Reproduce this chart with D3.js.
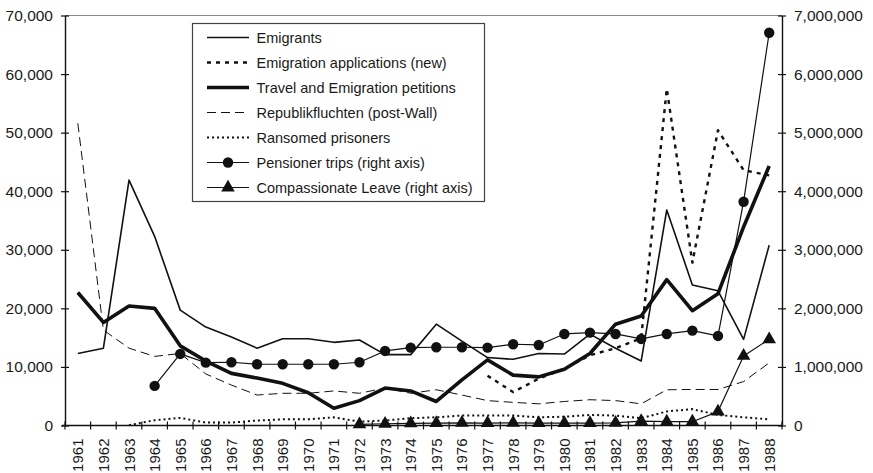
<!DOCTYPE html>
<html>
<head>
<meta charset="utf-8">
<script src="https://cdn.jsdelivr.net/npm/d3@7/dist/d3.min.js"></script>
<style>
  html, body { margin: 0; padding: 0; background: #fff; }
  svg { display: block; }
  text { font-family: "Liberation Sans", Arial, Helvetica, sans-serif; fill: #1a1a1a; }
</style>
</head>
<body>
<svg id="chart" width="873" height="473"></svg>
<script>
const years = [1961,1962,1963,1964,1965,1966,1967,1968,1969,1970,1971,1972,1973,1974,1975,1976,1977,1978,1979,1980,1981,1982,1983,1984,1985,1986,1987,1988];

const emigrants = [12300,13200,41900,32300,19700,16800,15100,13200,14800,14800,14200,14600,12100,12100,17300,14400,11600,11300,12300,12200,15600,13200,11000,36800,24000,23000,14700,30800];

const applications = [null,null,null,null,null,null,null,null,null,null,null,null,null,null,null,null,8500,5700,8000,9700,12000,13200,14900,57500,27800,50400,43600,42700];

const travel = [22700,17600,20400,20000,13600,11000,8900,8100,7200,5600,2950,4250,6400,5900,4100,7800,11200,8600,8300,9600,12300,17300,18700,24900,19600,22500,33900,44300];

const republik = [51600,16300,13200,11800,12300,8800,6900,5200,5500,5500,5900,5500,6400,5500,6100,5200,4250,3950,3700,4100,4400,4250,3700,6100,6150,6150,7500,10700];

const ransomed = [null,null,50,900,1300,500,500,850,1050,1050,1400,650,850,1250,1400,1700,1700,1700,1400,1500,1800,1700,1250,2400,2800,1800,1400,1050];

const pensioner = [null,null,null,676000,1222000,1073000,1080000,1046000,1046000,1046000,1046000,1080000,1273000,1330000,1336000,1336000,1330000,1387000,1375000,1563000,1585000,1563000,1478000,1563000,1620000,1529000,3821000,6705000];

const compassionate = [null,null,null,null,null,null,null,null,null,null,null,20000,30000,35000,40000,45000,40000,45000,40000,40000,40000,45000,75000,65000,65000,237000,1188000,1473000];

const leftTicks = [0,10000,20000,30000,40000,50000,60000,70000];
const rightTicks = [0,1000000,2000000,3000000,4000000,5000000,6000000,7000000];

const legendLabels = [
  "Emigrants",
  "Emigration applications (new)",
  "Travel and Emigration petitions",
  "Republikfluchten (post-Wall)",
  "Ransomed prisoners",
  "Pensioner trips (right axis)",
  "Compassionate Leave (right axis)"
];

const svg = d3.select("#chart");
const L = 65, R = 782, T = 15.5, B = 425.5;

const x = d3.scaleBand().domain(years).range([L, R]).paddingInner(0).paddingOuter(0);
const yL = d3.scaleLinear().domain([0, 70000]).range([B, T]);
const yR = d3.scaleLinear().domain([0, 7000000]).range([B, T]);
const cx = d => x(d) + x.bandwidth() / 2;

// top border
svg.append("line").attr("x1", L).attr("x2", R).attr("y1", T).attr("y2", T)
  .attr("stroke", "#8a8a8a").attr("stroke-width", 1);

const fmt = d3.format(",");

// left axis
const gL = svg.append("g").attr("transform", `translate(${L},0)`)
  .call(d3.axisLeft(yL).tickValues(leftTicks).tickFormat(fmt).tickSizeInner(4).tickSizeOuter(0).tickPadding(8));
gL.selectAll(".tick line").attr("x1", 4).attr("x2", -4);
// right axis
const gR = svg.append("g").attr("transform", `translate(${R},0)`)
  .call(d3.axisRight(yR).tickValues(rightTicks).tickFormat(fmt).tickSizeInner(4).tickSizeOuter(0).tickPadding(8));
gR.selectAll(".tick line").attr("x1", -4).attr("x2", 4);
// bottom axis
const gB = svg.append("g").attr("transform", `translate(0,${B})`)
  .call(d3.axisBottom(x).tickValues([]).tickSizeOuter(0));
gB.selectAll(".tick").remove();
const bounds = years.map(y => x(y)).concat([R]);
gB.selectAll("line.bt").data(bounds).enter().append("line").attr("class", "bt")
  .attr("x1", d => d).attr("x2", d => d).attr("y1", -4).attr("y2", 4)
  .attr("stroke", "#111").attr("stroke-width", 1.2);
gB.append("line").attr("x1", L - 3).attr("x2", R).attr("y1", 0).attr("y2", 0).attr("stroke", "#111").attr("stroke-width", 1.4);
gB.selectAll("text.yl").data(years).enter().append("text").attr("class", "yl")
  .attr("transform", d => `translate(${cx(d) + 5.5},13) rotate(-90)`)
  .attr("text-anchor", "end")
  .style("font-size", "15px")
  .text(d => d);

[gL, gR, gB].forEach(g => {
  g.select(".domain").attr("stroke", "#111").attr("stroke-width", 1.4);
  g.selectAll(".tick line").attr("stroke", "#111").attr("stroke-width", 1.2);
  g.selectAll(".tick text").style("font-size", "15.5px").attr("fill", "#1a1a1a");
});
gB.select(".domain").remove();

function lineFor(scale) {
  return d3.line().defined(d => d[1] !== null).x(d => cx(d[0])).y(d => scale(d[1]));
}
function pairs(arr) { return years.map((y, i) => [y, arr[i]]); }

const styles = [
  { data: emigrants, scale: yL, w: 1.6, dash: null },
  { data: applications, scale: yL, w: 2.4, dash: "4,5" },
  { data: travel, scale: yL, w: 3.6, dash: null },
  { data: republik, scale: yL, w: 1, dash: "9,5" },
  { data: ransomed, scale: yL, w: 2, dash: "2,3" },
  { data: pensioner, scale: yR, w: 1.2, dash: null, marker: "circle" },
  { data: compassionate, scale: yR, w: 1.2, dash: null, marker: "triangle" }
];

styles.forEach(s => {
  svg.append("path").datum(pairs(s.data))
    .attr("d", lineFor(s.scale))
    .attr("fill", "none").attr("stroke", "#111")
    .attr("stroke-width", s.w)
    .attr("stroke-dasharray", s.dash)
    .attr("stroke-linejoin", "round");
  if (s.marker) {
    const sym = d3.symbol().type(s.marker === "circle" ? d3.symbolCircle : d3.symbolTriangle)
      .size(s.marker === "circle" ? 85 : 80);
    svg.selectAll(null).data(pairs(s.data).filter(d => d[1] !== null)).enter()
      .append("path").attr("d", sym)
      .attr("transform", d => `translate(${cx(d[0])},${s.scale(d[1])})`)
      .attr("fill", "#111");
  }
});

// legend
const lg = svg.append("g");
lg.append("rect").attr("x", 192.5).attr("y", 23.5).attr("width", 292).attr("height", 178)
  .attr("fill", "#fff").attr("stroke", "#444").attr("stroke-width", 1.2);
legendLabels.forEach((lab, i) => {
  const yy = 37.5 + i * 25;
  const s = styles[i];
  lg.append("line").attr("x1", 207).attr("x2", 249).attr("y1", yy).attr("y2", yy)
    .attr("stroke", "#111").attr("stroke-width", s.w).attr("stroke-dasharray", s.dash);
  if (s.marker) {
    const sym = d3.symbol().type(s.marker === "circle" ? d3.symbolCircle : d3.symbolTriangle)
      .size(s.marker === "circle" ? 85 : 80);
    lg.append("path").attr("d", sym).attr("transform", `translate(228,${yy})`).attr("fill", "#111");
  }
  lg.append("text").attr("x", 256.5).attr("y", yy + 5).style("font-size", "14.5px").text(lab);
});
</script>
</body>
</html>
